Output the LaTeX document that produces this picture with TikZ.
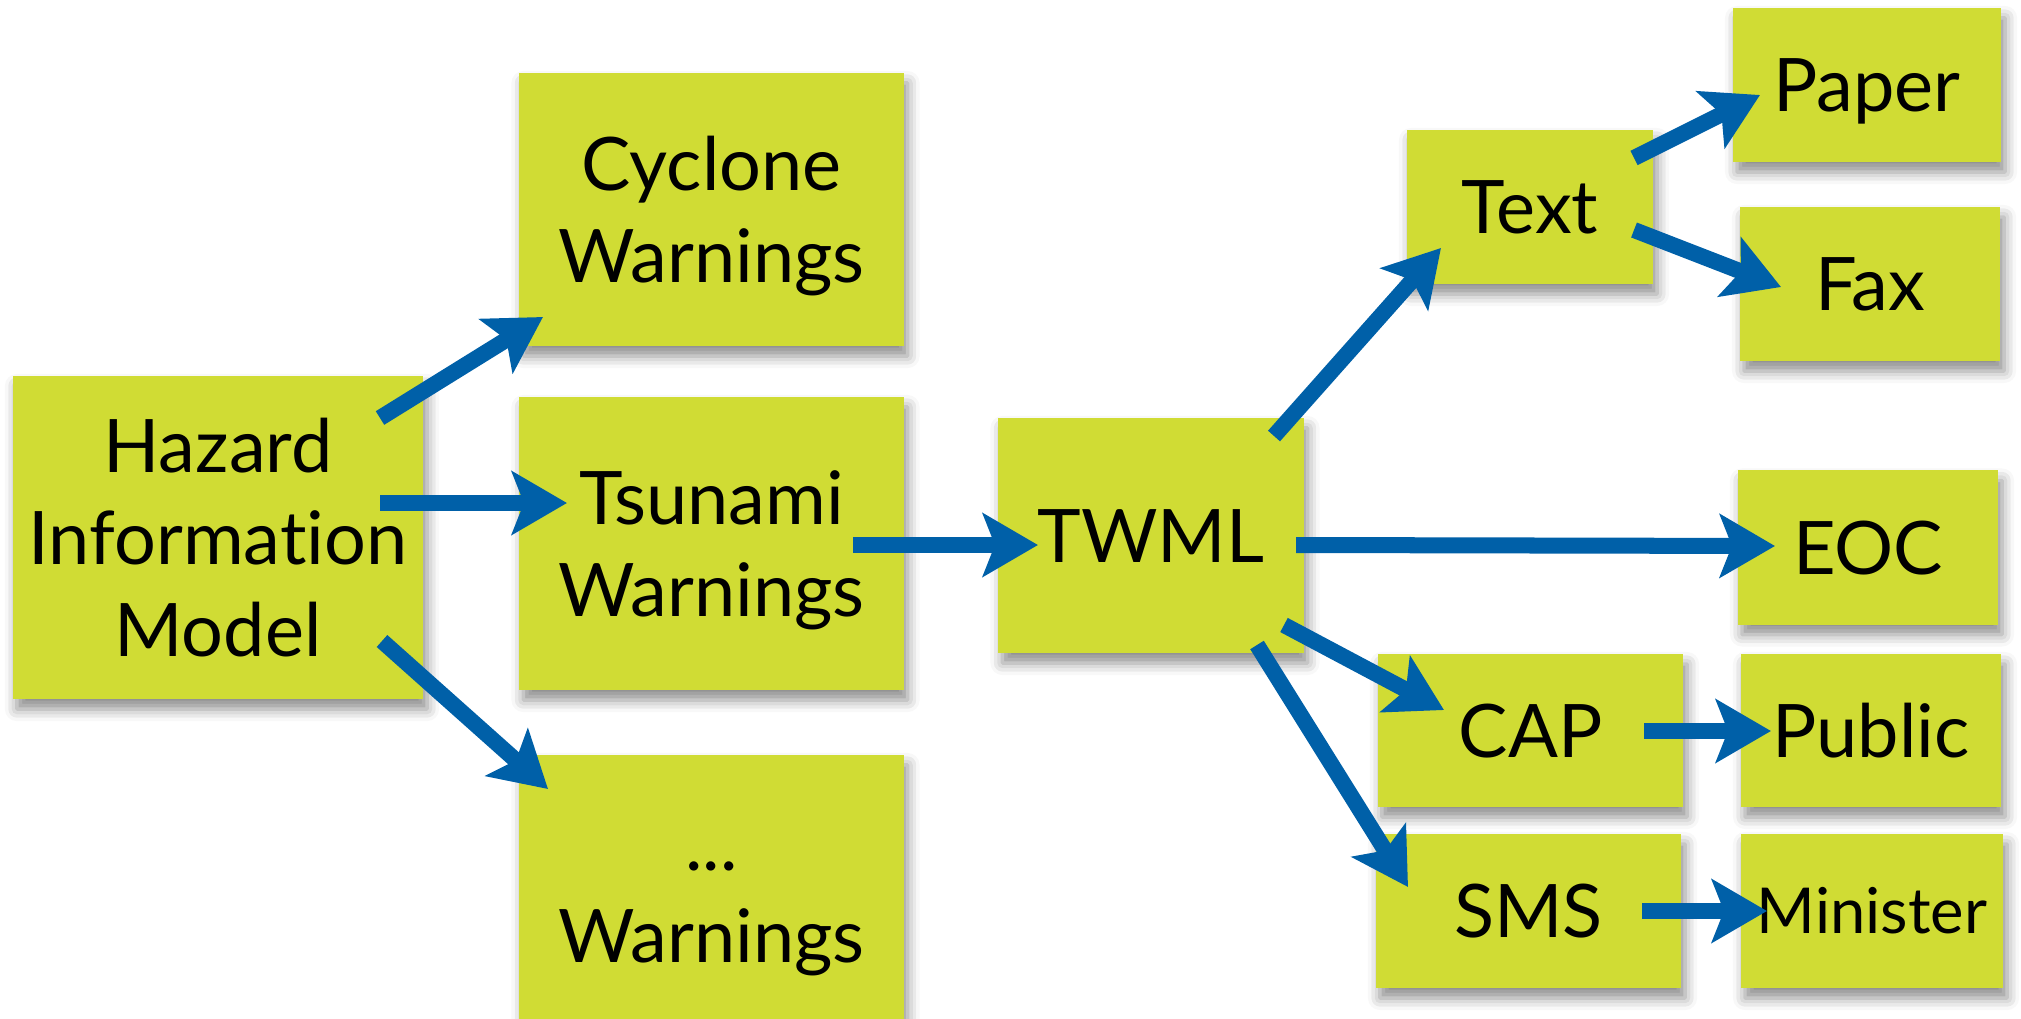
\documentclass[tikz,border=0pt]{standalone}
\usepackage{fontspec}
\setmainfont{Lato}[Ligatures=NoCommon]
\usetikzlibrary{arrows.meta,shadows.blur}
\definecolor{boxfill}{RGB}{208,220,52}
\definecolor{arrowblue}{RGB}{0,96,168}
\begin{document}
\begin{tikzpicture}[x=0.01cm,y=-0.01cm,
  box/.style={fill=boxfill, inner sep=0pt, align=center, text depth=0cm,
    font=\fontsize{21}{26.1}\selectfont,
    blur shadow={shadow xshift=0.04cm, shadow yshift=-0.1cm, shadow blur radius=0.12cm, shadow opacity=45}},
  oneline/.style={text height=0.53cm},
  twolines/.style={text height=1.45cm},
  threelines/.style={text height=2.37cm},
  arr/.style={draw=arrowblue, line width=0.16cm,
    -{Stealth[length=0.55cm, width=0.63cm, inset=0.12cm, fill=arrowblue]}}]
\useasboundingbox (0,0) rectangle (2021,1018);

\node[box,threelines,minimum width=4.10cm,minimum height=3.23cm] (haz) at (218,537.5) {Hazard\\Information\\Model};
\node[box,twolines,minimum width=3.84cm,minimum height=2.73cm] (cyc) at (711.5,209.5) {Cyclone\\Warnings};
\node[box,twolines,minimum width=3.84cm,minimum height=2.93cm] (tsu) at (711.5,543.5) {Tsunami\\Warnings};
\node[box,twolines,minimum width=3.84cm,minimum height=2.70cm] (oth) at (711.5,890) {...\\Warnings};
\node[box,oneline,minimum width=3.05cm,minimum height=2.35cm] (twml) at (1151,535.5) {TWML};
\node[box,oneline,minimum width=2.46cm,minimum height=1.54cm] (txt) at (1530,207) {Text};
\node[box,oneline,minimum width=2.68cm,minimum height=1.54cm] (pap) at (1867,85) {Paper};
\node[box,oneline,minimum width=2.60cm,minimum height=1.54cm] (fax) at (1870,284) {Fax};
\node[box,oneline,minimum width=2.60cm,minimum height=1.54cm] (eoc) at (1868,547.5) {EOC};
\node[box,oneline,minimum width=3.05cm,minimum height=1.53cm] (cap) at (1530.5,730.5) {CAP};
\node[box,oneline,minimum width=2.60cm,minimum height=1.53cm] (pub) at (1871,730.5) {Public};
\node[box,oneline,minimum width=3.05cm,minimum height=1.54cm] (sms) at (1528.5,911) {SMS};
\node[box,oneline,minimum width=2.62cm,minimum height=1.54cm,font=\fontsize{18}{22}\selectfont,text height=0.45cm] (min) at (1872,911) {Minister};

\draw[arr] ([shift={(162,-119.5)}]haz.center) -- ([shift={(-168.5,107.5)}]cyc.center);
\draw[arr] ([shift={(162,-34.5)}]haz.center) -- ([shift={(-144.5,-40.5)}]tsu.center);
\draw[arr] ([shift={(164,103.5)}]haz.center) -- ([shift={(-163.5,-101)}]oth.center);
\draw[arr] ([shift={(141.5,1.5)}]tsu.center) -- ([shift={(-113,9.5)}]twml.center);
\draw[arr] ([shift={(123,-99.5)}]twml.center) -- ([shift={(-89,41)}]txt.center);
\draw[arr] ([shift={(104,-49)}]txt.center) -- ([shift={(-107,10)}]pap.center);
\draw[arr] ([shift={(104,23)}]txt.center) -- ([shift={(-89,3)}]fax.center);
\draw[arr] ([shift={(145,9.5)}]twml.center) -- ([shift={(-93,-1.5)}]eoc.center);
\draw[arr] ([shift={(133,89.5)}]twml.center) -- ([shift={(-86.5,-20.5)}]cap.center);
\draw[arr] ([shift={(106,109.5)}]twml.center) -- ([shift={(-120.5,-24)}]sms.center);
\draw[arr] ([shift={(113.5,0.5)}]cap.center) -- ([shift={(-100,0.5)}]pub.center);
\draw[arr] ([shift={(113.5,0)}]sms.center) -- ([shift={(-105,0)}]min.center);
\end{tikzpicture}
\end{document}
